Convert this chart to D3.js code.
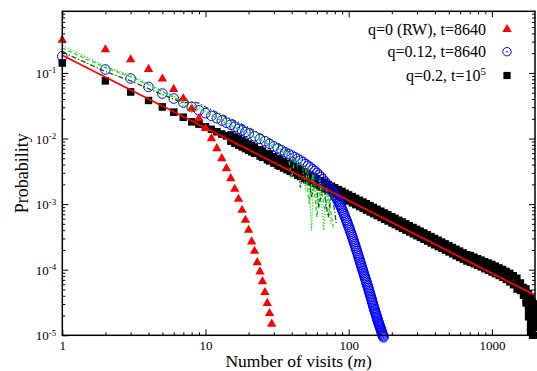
<!DOCTYPE html>
<html>
<head>
<meta charset="utf-8">
<script src="https://cdn.jsdelivr.net/npm/d3@7/dist/d3.min.js"></script>
<style>
  body { margin: 0; background: #fff; }
  svg { display: block; }
  text { font-family: "Liberation Serif", "Times New Roman", serif; fill: #000; }
</style>
</head>
<body>
<svg id="chart" width="537" height="371"></svg>
<script>
// tick values
const xTicks = [1, 10, 100, 1000];
const yTicks = [1e-5, 1e-4, 1e-3, 1e-2, 1e-1];

// q=0 (RW), t=8640 : red triangles
const rwM = [1, 2, 3, 4, 5, 6, 7, 8, 9, 10, 11, 12, 13, 14, 15, 16, 17, 18, 19, 20, 21, 22, 23, 24, 25, 26, 27, 28, 29];
const rwP = [0.316, 0.227, 0.160, 0.114, 0.0811, 0.0565, 0.0407, 0.0287, 0.0202, 0.0143, 0.0100, 0.00705, 0.00497,
  0.00350, 0.00246, 0.00169, 0.00119, 0.000811, 0.000570, 0.000402, 0.000267, 0.000192, 0.000129, 0.0000933,
  0.0000661, 0.0000452, 0.0000308, 0.0000216, 0.0000149];

// q=0.12, t=8640 : blue circles
const circM = [1, 2, 3, 4, 5, 6, 7, 8, 9, 10, 11, 12, 13, 14, 15, 16, 17, 18, 19,
  20, 22, 24, 26, 28, 30, 32, 34, 36, 38, 40, 42, 44, 46, 48, 50, 52, 54, 56, 58, 60, 62, 64, 66, 68, 70,
  72, 74, 76, 78, 80, 81, 82, 83, 84, 85, 86, 87, 88, 89, 90, 91, 92, 93, 94, 95, 96, 97, 98, 99, 100,
  101, 102, 103, 104, 105, 106, 107, 108, 109, 110, 111, 112, 113, 114, 115, 116, 117, 118, 119, 120,
  121, 122, 123, 124, 125, 126, 127, 128, 129, 130, 131, 132, 133, 134, 135, 136, 137, 138, 139, 140,
  141, 142, 143, 144, 145, 146, 147, 148, 149, 150, 151, 152, 153, 154, 155, 156, 157, 158, 159, 160,
  161, 162, 163, 164, 165, 166, 167, 168, 169, 170, 171, 172, 173, 174, 175];
const circP = [0.1795, 0.1127, 0.0822, 0.0612, 0.0485, 0.0407, 0.0354, 0.0303, 0.0269, 0.0243, 0.0221, 0.0204,
  0.0188, 0.0174, 0.0162, 0.0151, 0.0141, 0.0133, 0.0126,
  0.0119, 0.0108, 0.00989, 0.00912, 0.00832, 0.00759, 0.00708, 0.00661, 0.00617, 0.00582, 0.00550, 0.00519,
  0.00490, 0.00462, 0.00437, 0.00407, 0.00385, 0.00363, 0.00339, 0.00320, 0.00299, 0.00279, 0.00260, 0.00240,
  0.00221, 0.00204, 0.00188, 0.00174, 0.00160, 0.00148, 0.00135,
  0.00129, 0.00124, 0.00118, 0.00113, 0.00108, 0.00102, 0.000977, 0.000923, 0.000871, 0.000822,
  0.000776, 0.000733, 0.000692, 0.000652, 0.000614, 0.000578, 0.000545, 0.000513, 0.000482, 0.000452,
  0.000426, 0.000401, 0.000377, 0.000355, 0.000333, 0.000314, 0.000295, 0.000278, 0.000261, 0.000245,
  0.000231, 0.000217, 0.000204, 0.000192, 0.000181, 0.000170, 0.000160, 0.000151, 0.000142, 0.000133,
  0.000126, 0.000119, 0.000112, 0.000106, 0.000100, 0.0000944, 0.0000891, 0.0000845, 0.0000800, 0.0000759,
  0.0000719, 0.0000682, 0.0000647, 0.0000614, 0.0000582, 0.0000552, 0.0000524, 0.0000497, 0.0000471, 0.0000447,
  0.0000424, 0.0000402, 0.0000381, 0.0000361, 0.0000343, 0.0000325, 0.0000308, 0.0000292, 0.0000277, 0.0000263,
  0.0000251, 0.0000240, 0.0000229, 0.0000219, 0.0000209, 0.0000200, 0.0000191, 0.0000182, 0.0000174, 0.0000166,
  0.0000160, 0.0000153, 0.0000148, 0.0000142, 0.0000136, 0.0000131, 0.0000126, 0.0000121, 0.0000117, 0.0000112,
  0.0000108, 0.0000104, 0.0000100, 0.0000097, 0.0000093];

// q=0.2, t=10^5 : black squares, upper and lower edge of the band
const blackM = [1, 2, 3, 4, 5, 6, 7, 8, 9, 10, 11, 12, 13, 14,
  15, 16, 17, 18, 19, 20, 21, 22, 24, 25, 27, 28, 30, 32, 33, 35, 37, 39, 41, 44, 46, 49, 51, 54, 57, 60,
  64, 68, 72, 76, 80, 85, 90, 95, 100, 106, 112, 119, 126, 133, 141, 149, 158, 168, 178, 188, 200, 211,
  224, 237, 251, 266, 282, 299, 316, 335, 355, 376, 398, 422, 447, 473, 501, 531, 562, 596, 631, 668,
  708, 750, 794, 841, 891, 944, 1000, 1059, 1122, 1189, 1259, 1334, 1413, 1497, 1585];
const blackHi = [0.142, 0.0759, 0.0513, 0.0380, 0.0303, 0.0252, 0.0211, 0.0180, 0.0166, 0.0151, 0.0138, 0.0127,
  0.0117, 0.0110,
  0.0114, 0.0106, 0.00992, 0.00931, 0.00877, 0.00829, 0.00785, 0.00746, 0.00677, 0.00647, 0.00594, 0.00571,
  0.00529, 0.00493, 0.00476, 0.00446, 0.00419, 0.00396, 0.00374, 0.00346, 0.00329, 0.00307, 0.00294, 0.00276,
  0.00260, 0.00245, 0.00228, 0.00214, 0.00200, 0.00189, 0.00178, 0.00167, 0.00157, 0.00147, 0.00139, 0.00131,
  0.00123, 0.00115, 0.00108, 0.00102, 0.000952, 0.000896, 0.000839, 0.000784, 0.000735, 0.000692, 0.000646,
  0.000609, 0.000570, 0.000536, 0.000503, 0.000471, 0.000442, 0.000414, 0.000389, 0.000365, 0.000342,
  0.000321, 0.000301, 0.000283, 0.000265, 0.000249, 0.000234, 0.000219, 0.000206, 0.000193, 0.000181,
  0.000170, 0.000165, 0.000156, 0.000148, 0.000141, 0.000133, 0.000127, 0.000121, 0.000114, 0.000107,
  0.000101, 0.0000945, 0.0000885, 0.0000812, 0.0000745, 0.0000631];
const blackLo = [0.142, 0.0759, 0.0513, 0.0380, 0.0303, 0.0252, 0.0211, 0.0180, 0.0166, 0.0151, 0.0138, 0.0127,
  0.0117, 0.0110,
  0.00906, 0.00843, 0.00788, 0.00740, 0.00697, 0.00658, 0.00624, 0.00592, 0.00538, 0.00514, 0.00472, 0.00453,
  0.00420, 0.00391, 0.00378, 0.00354, 0.00333, 0.00314, 0.00297, 0.00275, 0.00262, 0.00244, 0.00233, 0.00219,
  0.00206, 0.00195, 0.00181, 0.00170, 0.00159, 0.00150, 0.00142, 0.00132, 0.00124, 0.00117, 0.00111, 0.00104,
  0.000976, 0.000913, 0.000857, 0.000807, 0.000756, 0.000711, 0.000666, 0.000623, 0.000584, 0.000550, 0.000513,
  0.000484, 0.000453, 0.000425, 0.000399, 0.000374, 0.000351, 0.000329, 0.000309, 0.000290, 0.000272,
  0.000255, 0.000239, 0.000224, 0.000211, 0.000198, 0.000186, 0.000174, 0.000163, 0.000153, 0.000144,
  0.000135, 0.000129, 0.000123, 0.000116, 0.000110, 0.000103, 0.0000975, 0.0000919, 0.0000867, 0.0000814,
  0.0000763, 0.0000708, 0.0000649, 0.0000588, 0.0000504, 0.0000479];
// falling tail of the black series, read as a filled blob
const blackTailM = [1660, 1660, 1660, 1730, 1730, 1730, 1730, 1800, 1800, 1800, 1800, 1800,
  1860, 1860, 1860, 1860, 1860, 1860, 1860, 1920, 1920, 1920, 1920, 1920, 1920, 1975, 1975, 1975, 1975, 1975, 1975];
const blackTailP = [0.0000537, 0.0000468, 0.0000407, 0.0000513, 0.0000427, 0.0000355, 0.0000309,
  0.0000437, 0.0000355, 0.0000288, 0.0000234, 0.0000191,
  0.0000372, 0.0000302, 0.0000245, 0.0000200, 0.0000162, 0.0000132, 0.0000112,
  0.0000324, 0.0000263, 0.0000214, 0.0000174, 0.0000141, 0.0000100,
  0.0000302, 0.0000245, 0.0000200, 0.0000162, 0.0000132, 0.0000100];

// power-law fit (red line), end points
const fitM = [1, 2000];
const fitP = [0.186, 0.000041];

// green curves
const gDotM = [1, 2, 3, 4, 5, 6, 7, 8, 10, 12, 15, 20, 25, 30, 35, 40, 44, 47, 50, 52, 55, 57, 60, 63, 67, 70, 75];
const gDotP = [0.263, 0.126, 0.0912, 0.0676, 0.0537, 0.0447, 0.0316, 0.0331, 0.0263, 0.0214, 0.0166, 0.0120,
  0.00955, 0.00794, 0.00661, 0.00550, 0.00398, 0.00479, 0.00158, 0.00380, 0.000398, 0.00282, 0.00100, 0.00251,
  0.000398, 0.00178, 0.000501];
const gDashM = [1, 2, 3, 4, 5, 6, 7, 8, 9, 10, 12, 15, 20, 25, 30, 35, 38, 40, 42, 46, 50, 53, 56, 60, 64, 68, 72, 78];
const gDashP = [0.240, 0.120, 0.0871, 0.0661, 0.0513, 0.0427, 0.0363, 0.0251, 0.0282, 0.0251, 0.0204, 0.0158,
  0.0115, 0.00912, 0.00741, 0.00617, 0.00501, 0.00251, 0.00501, 0.00417, 0.00355, 0.00100, 0.00282, 0.000631,
  0.00200, 0.000794, 0.00141, 0.000447];
const gDarkM = [1, 2, 3, 4, 5, 6, 7, 8, 9, 10, 12, 15, 20, 25, 30, 33, 38, 43, 46, 48, 52, 55, 58, 62, 66, 72, 76, 82];
const gDarkP = [0.209, 0.105, 0.0759, 0.0575, 0.0468, 0.0398, 0.0347, 0.0363, 0.0347, 0.0302, 0.0251, 0.0200,
  0.0148, 0.0112, 0.00912, 0.00794, 0.00631, 0.00468, 0.00178, 0.00398, 0.00316, 0.00126, 0.00282, 0.000891,
  0.00200, 0.000631, 0.00158, 0.000501];

const legendLabels = ["q=0 (RW), t=8640", "q=0.12, t=8640", "q=0.2, t=10"];

const svg = d3.select("#chart");
const plotLeft = 62.3, plotRight = 535, plotTop = 11.3, plotBottom = 335.3;

const x = d3.scaleLog().domain([1, 2000]).range([plotLeft, plotRight]);
const y = d3.scaleLog().domain([1e-5, 0.87]).range([plotBottom, plotTop]);

const pts = (ms, ps) => ms.map((m, i) => [m, ps[i]]);
const line = d3.line().x(d => x(d[0])).y(d => y(d[1]));

// black squares
const blackPts = pts(blackM, blackHi).concat(pts(blackM, blackLo), pts(blackTailM, blackTailP));
svg.append("g").selectAll("rect")
  .data(blackPts)
  .join("rect")
  .attr("x", d => x(d[0]) - 3.6)
  .attr("y", d => y(d[1]) - 3.6)
  .attr("width", 7.2)
  .attr("height", 7.2)
  .attr("fill", "#000");

// blue circles
svg.append("g").selectAll("circle")
  .data(pts(circM, circP))
  .join("circle")
  .attr("cx", d => x(d[0]))
  .attr("cy", d => y(d[1]))
  .attr("r", 4.8)
  .attr("fill", "none")
  .attr("stroke", "#0000ff")
  .attr("stroke-width", 1);

// red triangles
const tri = d3.symbol().type(d3.symbolTriangle).size(38);
svg.append("g").selectAll("path")
  .data(pts(rwM, rwP))
  .join("path")
  .attr("transform", d => `translate(${x(d[0])},${y(d[1])})`)
  .attr("d", tri)
  .attr("fill", "#ff0000");

// green curves
svg.append("path").datum(pts(gDotM, gDotP)).attr("d", line)
  .attr("fill", "none").attr("stroke", "#22dd22").attr("stroke-width", 1.3).attr("stroke-dasharray", "1.2,1.8");
svg.append("path").datum(pts(gDashM, gDashP)).attr("d", line)
  .attr("fill", "none").attr("stroke", "#33cc33").attr("stroke-width", 1.3).attr("stroke-dasharray", "4,2.5");
svg.append("path").datum(pts(gDarkM, gDarkP)).attr("d", line)
  .attr("fill", "none").attr("stroke", "#006600").attr("stroke-width", 1.3).attr("stroke-dasharray", "5,2,1.2,2");

// fit line
svg.append("path").datum(pts(fitM, fitP)).attr("d", line)
  .attr("fill", "none").attr("stroke", "#ff0000").attr("stroke-width", 1.8);

// axes: ticks pointing inward on all four sides
const xMinor = [];
for (let d = 1; d <= 1000; d *= 10) for (let k = 2; k <= 9; k++) if (d * k < 2000) xMinor.push(d * k);
const yMinor = [];
for (let d = 1e-5; d < 0.5; d *= 10) for (let k = 2; k <= 9; k++) if (d * k < 0.87) yMinor.push(d * k);

function styleAxis(g) {
  g.select(".domain").remove();
  g.selectAll("line").attr("stroke", "#000").attr("stroke-width", 1);
  g.selectAll("text").attr("font-size", 13).attr("font-family", "Liberation Serif, Times New Roman, serif");
}

svg.append("g").attr("transform", `translate(0,${plotBottom})`)
  .call(d3.axisBottom(x).tickValues(xTicks).tickSize(-6).tickPadding(5).tickFormat(d3.format("d")))
  .call(styleAxis);
svg.append("g").attr("transform", `translate(0,${plotBottom})`)
  .call(d3.axisBottom(x).tickValues(xMinor).tickSize(-3).tickFormat(""))
  .call(styleAxis);
svg.append("g").attr("transform", `translate(0,${plotTop})`)
  .call(d3.axisTop(x).tickValues(xTicks).tickSize(-6).tickFormat(""))
  .call(styleAxis);
svg.append("g").attr("transform", `translate(0,${plotTop})`)
  .call(d3.axisTop(x).tickValues(xMinor).tickSize(-3).tickFormat(""))
  .call(styleAxis);

const yAxis = svg.append("g").attr("transform", `translate(${plotLeft},0)`)
  .call(d3.axisLeft(y).tickValues(yTicks).tickSize(-6).tickPadding(6).tickFormat(""))
  .call(styleAxis);
yAxis.selectAll(".tick text").each(function (d) {
  const t = d3.select(this).attr("dy", "0.35em");
  t.append("tspan").text("10");
  t.append("tspan").attr("dy", "-0.5em").attr("font-size", 9).text(String(Math.round(Math.log10(d))));
});
svg.append("g").attr("transform", `translate(${plotLeft},0)`)
  .call(d3.axisLeft(y).tickValues(yMinor).tickSize(-3).tickFormat(""))
  .call(styleAxis);
svg.append("g").attr("transform", `translate(${plotRight},0)`)
  .call(d3.axisRight(y).tickValues(yTicks).tickSize(-6).tickFormat(""))
  .call(styleAxis);
svg.append("g").attr("transform", `translate(${plotRight},0)`)
  .call(d3.axisRight(y).tickValues(yMinor).tickSize(-3).tickFormat(""))
  .call(styleAxis);

// frame
svg.append("rect")
  .attr("x", plotLeft).attr("y", plotTop)
  .attr("width", plotRight - plotLeft).attr("height", plotBottom - plotTop)
  .attr("fill", "none").attr("stroke", "#000").attr("stroke-width", 1.5);

// axis titles
const xt = svg.append("text")
  .attr("x", (plotLeft + plotRight) / 2).attr("y", 367)
  .attr("text-anchor", "middle").attr("font-size", 17.5);
xt.append("tspan").text("Number of visits (");
xt.append("tspan").attr("font-style", "italic").text("m");
xt.append("tspan").text(")");

svg.append("text")
  .attr("transform", `translate(28,${(plotTop + plotBottom) / 2}) rotate(-90)`)
  .attr("text-anchor", "middle").attr("font-size", 18)
  .text("Probability");

// legend
const legY = [29.3, 51.7, 75.5];
const legend = svg.append("g");
legendLabels.forEach((lab, i) => {
  const t = legend.append("text")
    .attr("x", 486).attr("y", legY[i] + 5.5)
    .attr("text-anchor", "end").attr("font-size", 16)
    .text(lab);
  if (i === 2) t.append("tspan").attr("dy", "-0.55em").attr("font-size", 11).text("5");
});
legend.append("path")
  .attr("transform", `translate(507,${legY[0]})`)
  .attr("d", tri).attr("fill", "#ff0000");
legend.append("circle").attr("cx", 507).attr("cy", legY[1]).attr("r", 4.2)
  .attr("fill", "none").attr("stroke", "#0000ff").attr("stroke-width", 1);
legend.append("circle").attr("cx", 507).attr("cy", legY[1]).attr("r", 0.8).attr("fill", "#0000ff");
legend.append("rect").attr("x", 503.4).attr("y", legY[2] - 3.6).attr("width", 7.2).attr("height", 7.2)
  .attr("fill", "#000");
</script>
</body>
</html>
